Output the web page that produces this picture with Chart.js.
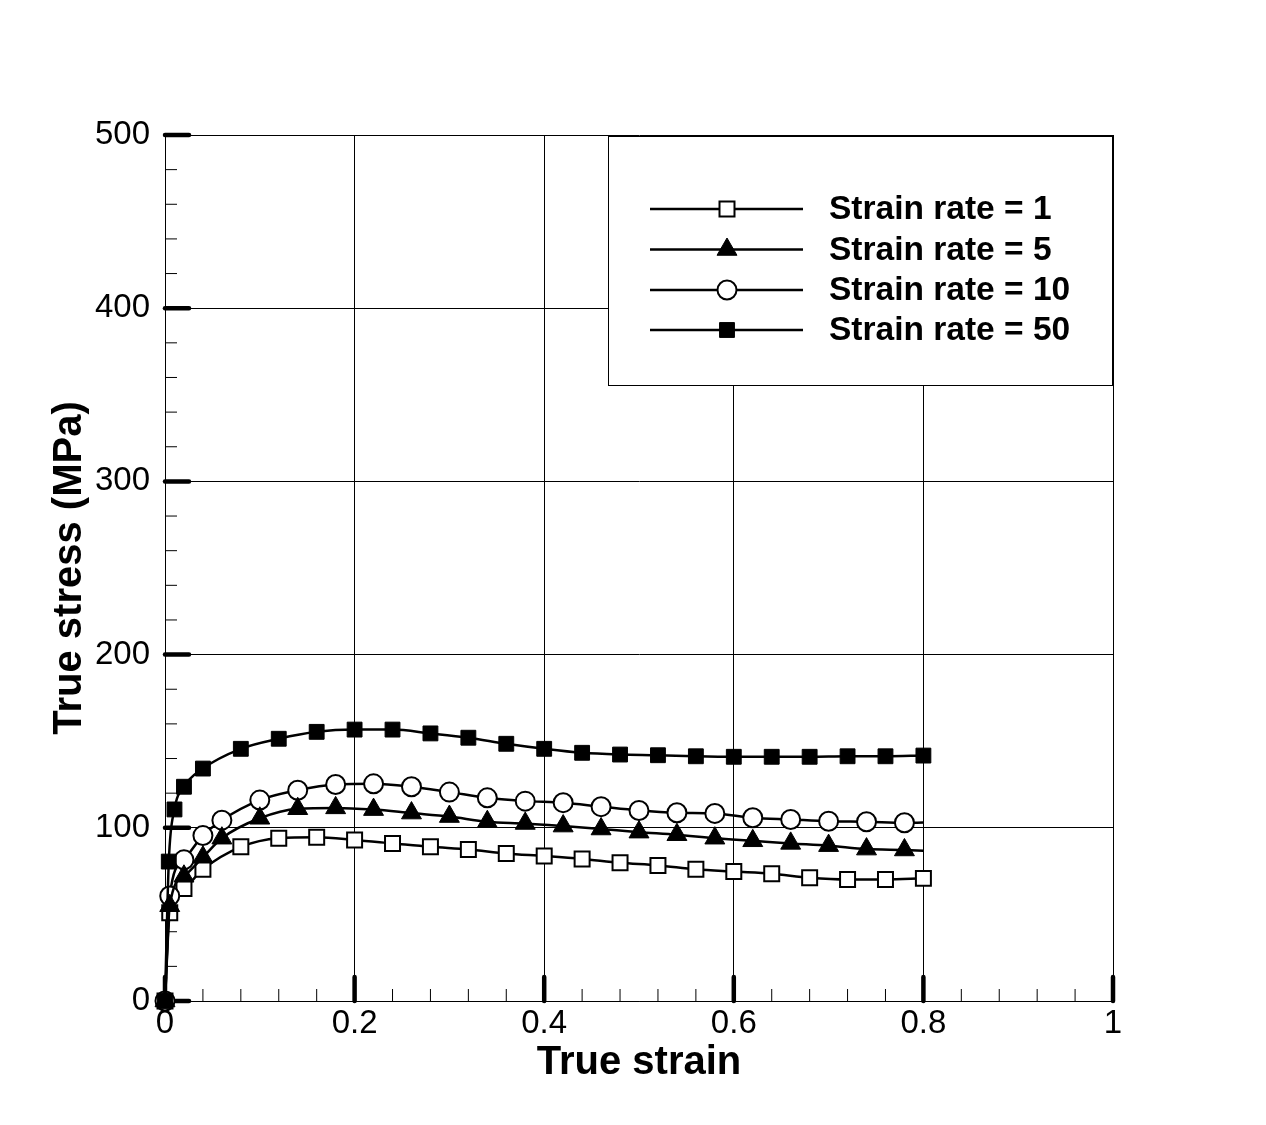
<!DOCTYPE html>
<html>
<head>
<meta charset="utf-8">
<title>True stress vs true strain</title>
<script src="https://cdn.jsdelivr.net/npm/chart.js@4.4.1/dist/chart.umd.min.js"></script>
<style>
    html, body { margin: 0; padding: 0; background: #fff; }
    #chart { display: block; }
</style>
</head>
<body>
<canvas id="chart" width="1266" height="1125"></canvas>
<script>
// Data
const seriesNames = ['Strain rate = 1', 'Strain rate = 5', 'Strain rate = 10', 'Strain rate = 50'];

const strainRate1 = [0, 0.005, 0.02, 0.04, 0.08, 0.12, 0.16, 0.20, 0.24, 0.28, 0.32, 0.36, 0.40, 0.44, 0.48, 0.52, 0.56, 0.60, 0.64, 0.68, 0.72, 0.76, 0.80];
const stressRate1 = [0, 51, 65, 76, 89, 94, 94.5, 93, 91, 89, 87.5, 85.2, 83.7, 82, 79.8, 78.3, 76, 74.7, 73.5, 71.2, 70.2, 70.2, 70.8];

const strainRate5 = [0, 0.005, 0.02, 0.04, 0.06, 0.10, 0.14, 0.18, 0.22, 0.26, 0.30, 0.34, 0.38, 0.42, 0.46, 0.50, 0.54, 0.58, 0.62, 0.66, 0.70, 0.74, 0.78, 0.80];
const stressRate5 = [0, 55, 72, 83, 94, 105.5, 111, 111.5, 110.5, 108.5, 106.5, 103.5, 102.5, 101, 99.3, 97.5, 96, 94, 92.5, 91, 89.7, 87.7, 87.2, 86.8];

const strainRate10 = [0, 0.005, 0.02, 0.04, 0.06, 0.10, 0.14, 0.18, 0.22, 0.26, 0.30, 0.34, 0.38, 0.42, 0.46, 0.50, 0.54, 0.58, 0.62, 0.66, 0.70, 0.74, 0.78, 0.80];
const stressRate10 = [0, 60.6, 81.5, 95.5, 104.4, 116, 121.7, 125, 125.4, 123.7, 120.6, 117.3, 115.4, 114.5, 112.2, 110, 108.7, 108.3, 105.8, 104.8, 103.8, 103.5, 102.9, 103];

const strainRate50 = [0, 0.004, 0.01, 0.02, 0.04, 0.08, 0.12, 0.16, 0.20, 0.24, 0.28, 0.32, 0.36, 0.40, 0.44, 0.48, 0.52, 0.56, 0.60, 0.64, 0.68, 0.72, 0.76, 0.80];
const stressRate50 = [0, 80.5, 110.6, 123.7, 134.2, 145.6, 151.4, 155.4, 156.7, 156.7, 154.5, 152, 148.5, 145.6, 143.3, 142.3, 141.9, 141.3, 141, 141, 141, 141.3, 141.3, 141.7];

const xTickStep = 0.2;
const xMinorStep = 0.04;
const yTickStep = 100;
const yMinorStep = 20;

const toPoints = (xs, ys) => xs.map((x, i) => ({ x: x, y: ys[i] }));

// marker styles per series (drawOrder: lower = drawn on top)
const markerStyles = [
    { pointStyle: 'rect', radius: 10.6, fill: '#fff', borderWidth: 2, markEnd: true, drawOrder: 3 },
    { pointStyle: 'triangle', radius: 11.5, fill: '#000', borderWidth: 1, markEnd: false, drawOrder: 1 },
    { pointStyle: 'circle', radius: 9.5, fill: '#fff', borderWidth: 2, markEnd: false, drawOrder: 2 },
    { pointStyle: 'rect', radius: 10.5, fill: '#000', borderWidth: 1, markEnd: true, drawOrder: 0 }
];

const seriesData = [
    toPoints(strainRate1, stressRate1),
    toPoints(strainRate5, stressRate5),
    toPoints(strainRate10, stressRate10),
    toPoints(strainRate50, stressRate50)
];

const datasets = seriesData.map((pts, i) => {
    const m = markerStyles[i];
    return {
        label: seriesNames[i],
        data: pts,
        order: m.drawOrder,
        borderColor: '#000',
        borderWidth: 2.5,
        cubicInterpolationMode: 'monotone',
        pointStyle: m.pointStyle,
        pointRadius: ctx => (!m.markEnd && ctx.dataIndex === pts.length - 1) ? 0 : m.radius,
        pointBackgroundColor: m.fill,
        pointBorderColor: '#000',
        pointBorderWidth: m.borderWidth,
        clip: false
    };
});

// White background
const whiteBg = {
    id: 'whiteBg',
    beforeDraw(chart) {
        const ctx = chart.ctx;
        ctx.save();
        ctx.fillStyle = '#fff';
        ctx.fillRect(0, 0, chart.width, chart.height);
        ctx.restore();
    }
};

// Inward major/minor ticks on left and bottom axes
const innerTicks = {
    id: 'innerTicks',
    beforeDatasetsDraw(chart) {
        const ctx = chart.ctx;
        const xs = chart.scales.x, ys = chart.scales.y;
        const area = chart.chartArea;
        ctx.save();
        ctx.strokeStyle = '#000';

        for (let v = 0; v <= ys.max + 1e-9; v += yMinorStep) {
            const y = ys.getPixelForValue(v);
            const major = Math.abs(v / yTickStep - Math.round(v / yTickStep)) < 1e-6;
            ctx.lineWidth = major ? 4.5 : 1;
            ctx.lineCap = major ? 'round' : 'butt';
            ctx.beginPath();
            ctx.moveTo(area.left, y);
            ctx.lineTo(area.left + (major ? 24 : 12), y);
            ctx.stroke();
        }
        for (let i = 0; i * xMinorStep <= xs.max + 1e-9; i++) {
            const v = i * xMinorStep;
            const x = xs.getPixelForValue(v);
            const major = Math.abs(v / xTickStep - Math.round(v / xTickStep)) < 1e-6;
            ctx.lineWidth = major ? 4.5 : 1;
            ctx.lineCap = major ? 'round' : 'butt';
            ctx.beginPath();
            ctx.moveTo(x, area.bottom);
            ctx.lineTo(x, area.bottom - (major ? 24 : 12));
            ctx.stroke();
        }
        ctx.restore();
    }
};

// Boxed legend with line + marker samples
const boxLegend = {
    id: 'boxLegend',
    afterDraw(chart) {
        const ctx = chart.ctx;
        const box = { left: 608.5, top: 136.5, right: 1112.5, bottom: 385.5 };
        ctx.save();
        ctx.fillStyle = '#fff';
        ctx.fillRect(box.left, box.top, box.right - box.left, box.bottom - box.top);
        ctx.strokeStyle = '#000';
        ctx.lineWidth = 1;
        ctx.strokeRect(box.left, box.top, box.right - box.left, box.bottom - box.top);

        const rowY = [209, 249.5, 290, 330];
        ctx.font = 'bold 33.5px "Liberation Sans", Arial, sans-serif';
        ctx.textBaseline = 'middle';
        ctx.textAlign = 'left';
        seriesNames.forEach((name, i) => {
            const y = rowY[i];
            const m = markerStyles[i];
            ctx.strokeStyle = '#000';
            ctx.lineWidth = 2.5;
            ctx.beginPath();
            ctx.moveTo(650, y);
            ctx.lineTo(803, y);
            ctx.stroke();

            ctx.fillStyle = m.fill;
            ctx.lineWidth = m.borderWidth;
            Chart.helpers.drawPoint(ctx, {
                pointStyle: m.pointStyle,
                radius: m.radius,
                rotation: 0,
                borderWidth: m.borderWidth
            }, 727, y);

            ctx.fillStyle = '#000';
            ctx.fillText(name, 829, y + 1);
        });
        ctx.restore();
    }
};

const ctx = document.getElementById('chart').getContext('2d');
new Chart(ctx, {
    type: 'line',
    data: { datasets: datasets },
    plugins: [whiteBg, innerTicks, boxLegend],
    options: {
        responsive: false,
        devicePixelRatio: 1,
        animation: false,
        events: [],
        layout: { padding: { left: 0, top: 135, right: 153, bottom: 0 } },
        plugins: {
            legend: { display: false },
            tooltip: { enabled: false }
        },
        scales: {
            x: {
                type: 'linear',
                min: 0,
                max: 1,
                ticks: {
                    stepSize: xTickStep,
                    color: '#000',
                    padding: 3,
                    maxRotation: 0,
                    font: { family: '"Liberation Sans", Arial, sans-serif', size: 33 },
                    callback: v => String(+v.toFixed(1))
                },
                grid: { color: '#000', lineWidth: 1, drawTicks: false },
                border: { display: true, color: '#000', width: 1 },
                title: {
                    display: true,
                    text: 'True strain',
                    color: '#000',
                    font: { family: '"Liberation Sans", Arial, sans-serif', size: 40, weight: 'bold' },
                    padding: { top: 0, bottom: 38 }
                },
                afterFit: scale => { scale.height = 124; }
            },
            y: {
                type: 'linear',
                min: 0,
                max: 500,
                ticks: {
                    stepSize: yTickStep,
                    color: '#000',
                    padding: 15,
                    font: { family: '"Liberation Sans", Arial, sans-serif', size: 33 }
                },
                grid: { color: '#000', lineWidth: 1, drawTicks: false },
                border: { display: true, color: '#000', width: 1 },
                title: {
                    display: true,
                    text: 'True stress (MPa)',
                    color: '#000',
                    font: { family: '"Liberation Sans", Arial, sans-serif', size: 40, weight: 'bold' },
                    padding: { top: 46, bottom: 0 }
                },
                afterFit: scale => { scale.width = 165; }
            }
        }
    }
});
</script>
</body>
</html>
